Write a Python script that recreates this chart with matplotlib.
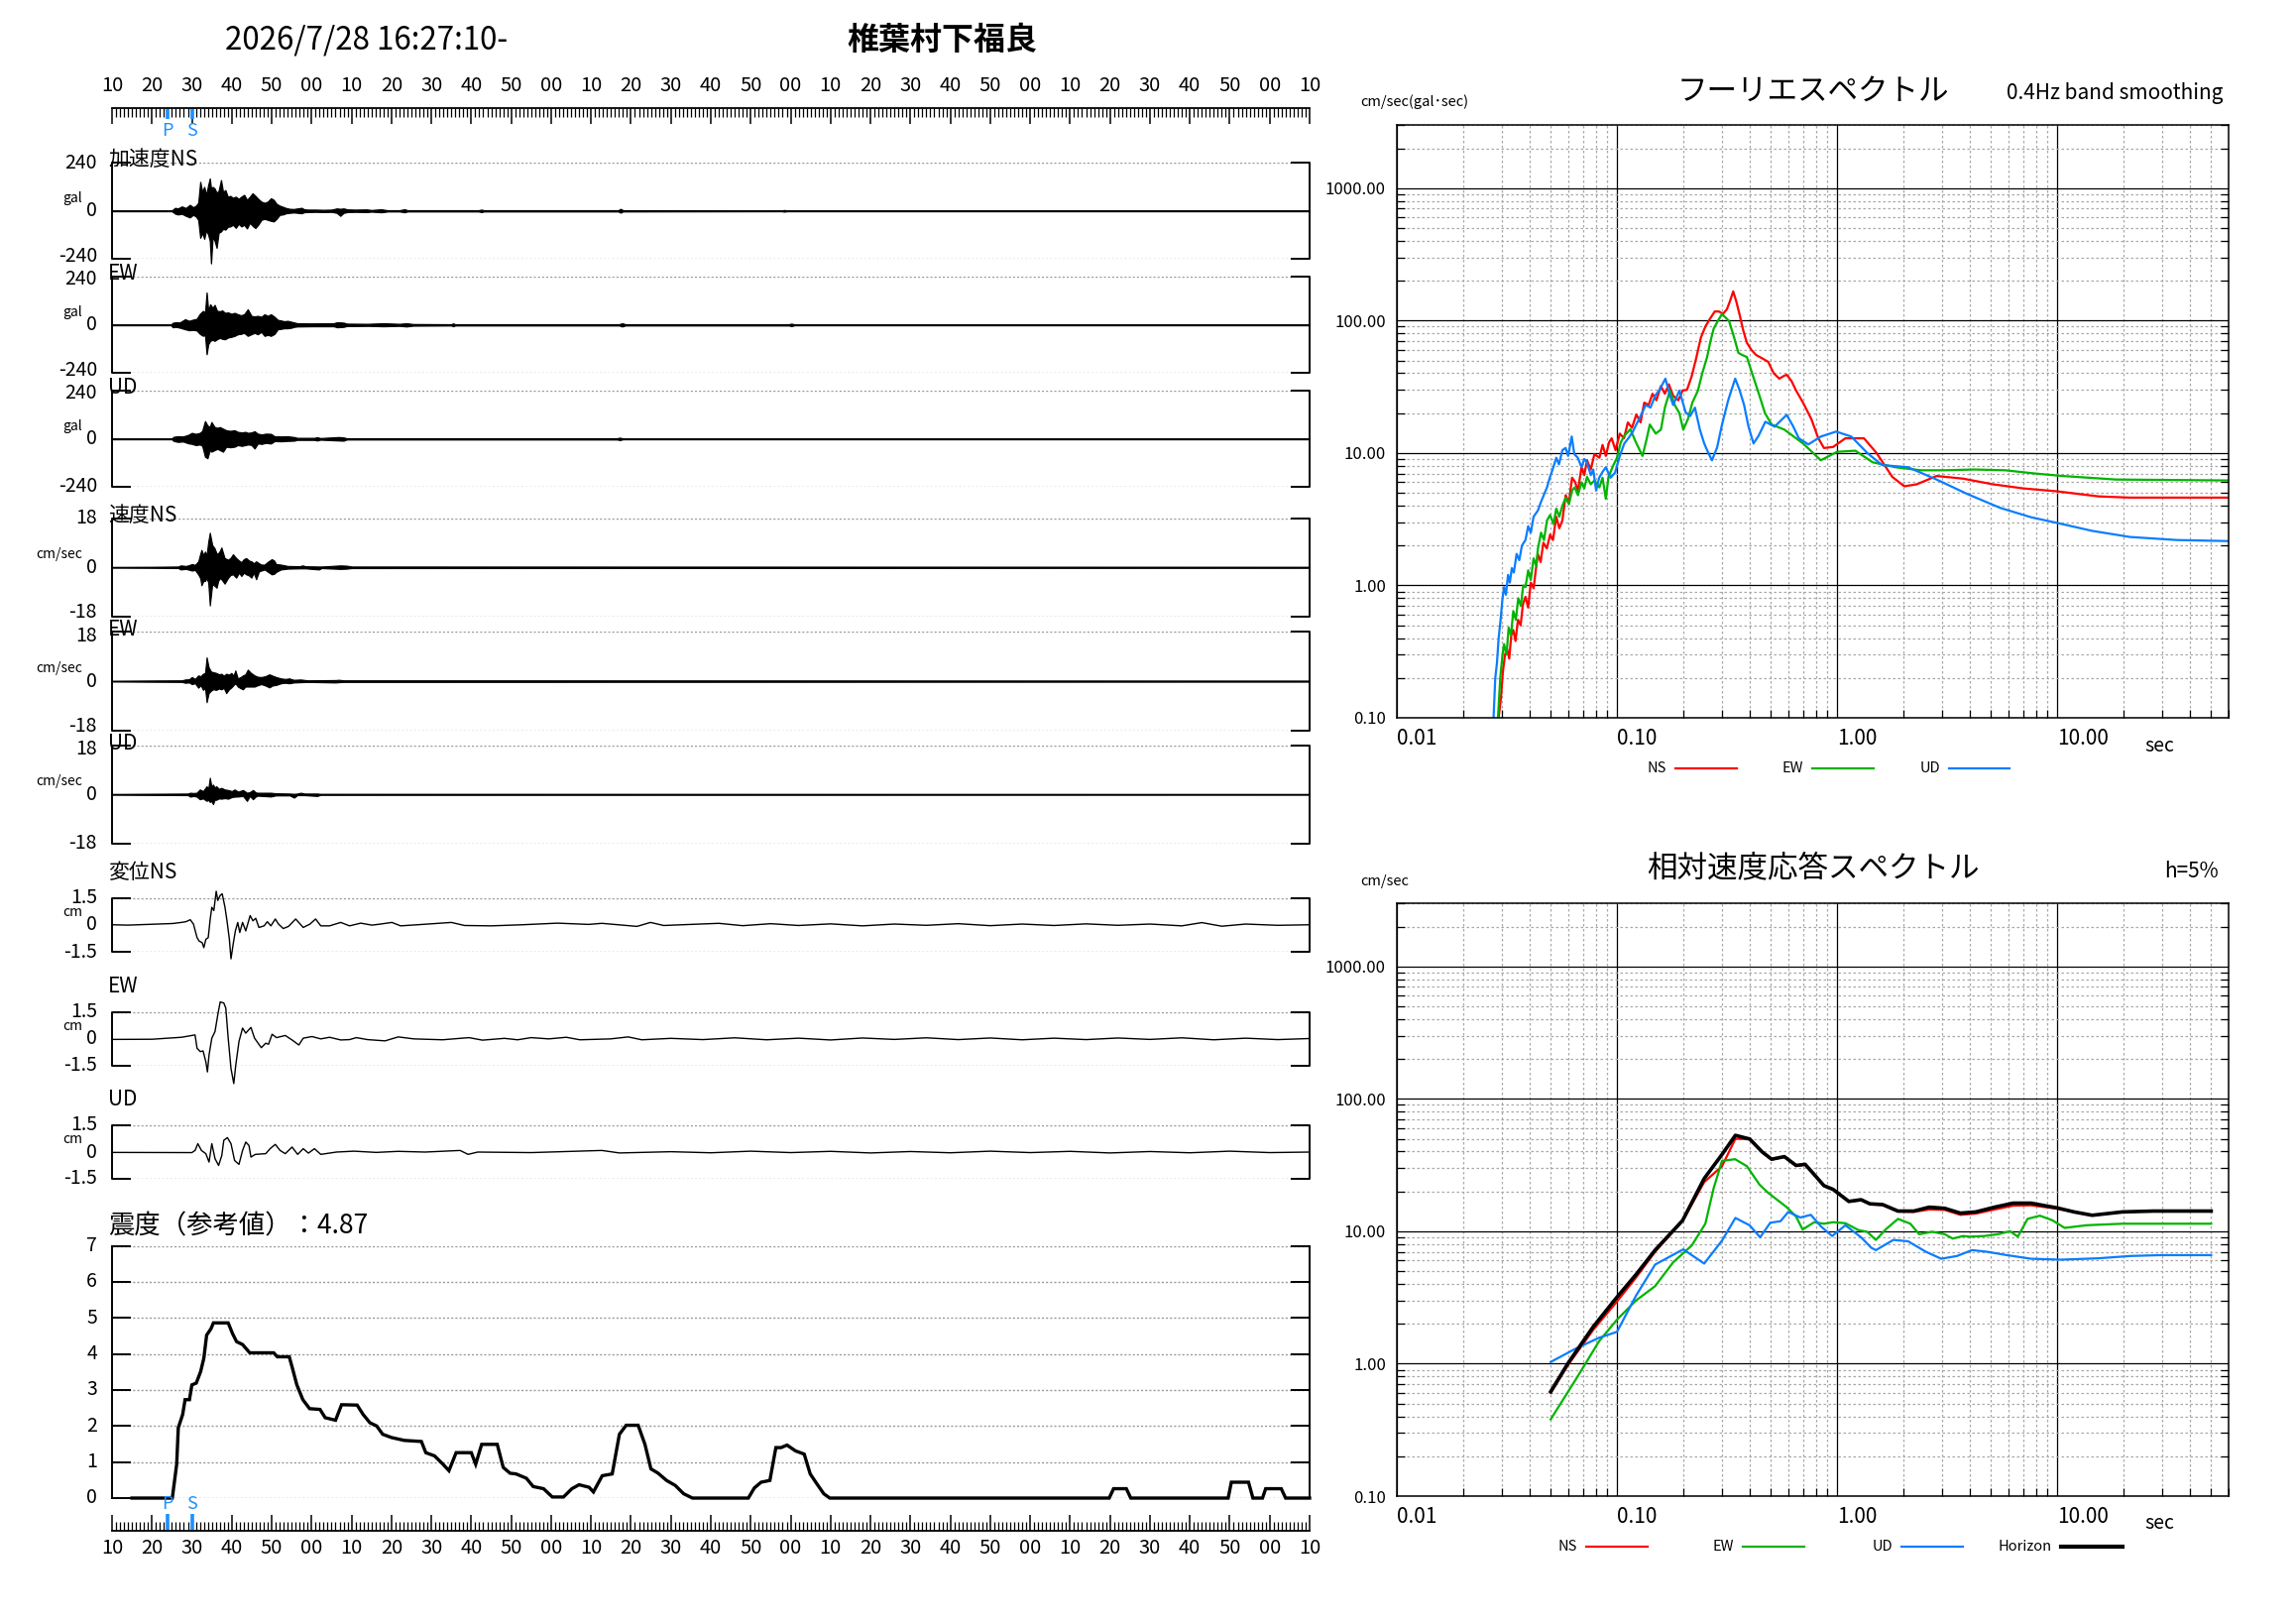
import numpy as np
import matplotlib
matplotlib.use('Agg')
import matplotlib.pyplot as plt
from matplotlib.lines import Line2D
from matplotlib.ticker import MultipleLocator, LogLocator, NullFormatter, FixedLocator, FuncFormatter

plt.rcParams['font.family'] = ['Noto Sans CJK JP', 'DejaVu Sans']

# ---------------- data ----------------
title_time = '2026/7/28 16:27:10-'
station = '椎葉村下福良'
start_sec = 10           # 16:27:10
span_sec = 300
p_time = 14.0
s_time = 20.1
shindo_value = 4.87

# acceleration envelopes (time s, upper gal, lower gal)
acc_ns = [(0, 2, -2), (15.0, 2, -2), (15.8, 15, -14), (16.5, 12, -18), (17.5, 22, -15), (18.5, 14, -25),
          (19.5, 30, -33), (20.3, 18, -20), (21.0, 25, -28), (21.6, 40, -45), (22.1, 145, -135), (22.6, 95, -110),
          (23.1, 120, -140), (23.6, 80, -95), (24.1, 130, -120), (24.5, 162, -150), (24.8, 110, -263),
          (25.2, 120, -130), (25.7, 112, -150), (26.2, 90, -185), (26.7, 100, -110), (27.3, 154, -103),
          (27.8, 95, -90), (28.4, 104, -94), (29.0, 70, -80), (29.6, 75, -78), (30.3, 65, -70), (31.0, 71, -85),
          (31.7, 60, -65), (32.4, 71, -78), (33.1, 80, -70), (33.8, 55, -88), (34.5, 70, -60), (35.2, 88, -75),
          (35.9, 75, -86), (36.6, 60, -70), (37.4, 46, -45), (38.2, 40, -40), (39.0, 46, -45), (39.8, 63, -50),
          (40.5, 55, -53), (41.2, 35, -40), (42.0, 26, -20), (42.8, 20, -18), (43.6, 14, -12), (44.5, 10, -10),
          (45.5, 9, -8), (46.5, 12, -10), (47.5, 15, -12), (48.1, 8, -7), (49.0, 6, -6), (51.0, 6, -5),
          (53.0, 5, -6), (55.0, 6, -5), (56.3, 12, -10), (57.2, 10, -25), (58.0, 12, -10), (59.0, 7, -6),
          (61.0, 6, -5), (63.8, 7, -6), (65.0, 4, -4), (67.4, 8, -7), (68.0, 6, -6), (69.0, 3, -3),
          (72.0, 3, -3), (73.3, 8, -7), (74.0, 3, -3), (91.8, 3, -3), (92.5, 6, -6), (93.2, 3, -3),
          (126.8, 3, -3), (127.4, 10, -9), (128.0, 3, -3), (167.8, 2, -2), (168.4, 4, -4), (169.0, 2, -2),
          (300, 2, -2)]
acc_ew = [(0, 2, -2), (14.8, 2, -2), (15.2, 10, -12), (16.0, 13, -10), (17.0, 12, -14), (18.3, 28, -22),
          (19.3, 20, -27), (20.3, 26, -25), (21.2, 30, -28), (22.0, 55, -45), (22.8, 70, -55), (23.3, 60, -50),
          (23.7, 162, -147), (24.1, 70, -97), (24.6, 103, -80), (25.2, 85, -75), (25.7, 100, -80), (26.3, 70, -72),
          (27.0, 68, -65), (27.6, 72, -70), (28.3, 60, -72), (29.1, 62, -63), (29.9, 55, -60), (30.7, 60, -55),
          (31.5, 53, -47), (32.3, 48, -45), (33.1, 53, -40), (34.0, 78, -55), (34.9, 45, -47), (35.7, 42, -40),
          (36.5, 45, -47), (37.4, 40, -35), (38.2, 53, -55), (39.0, 45, -50), (39.8, 53, -55), (40.7, 40, -45),
          (41.5, 25, -22), (42.3, 22, -20), (43.1, 18, -17), (44.0, 20, -17), (45.0, 15, -14), (45.6, 12, -10),
          (46.4, 8, -8), (50.0, 7, -7), (55.5, 8, -7), (56.4, 13, -12), (58.0, 11, -10), (58.8, 6, -6),
          (64.0, 5, -5), (68.0, 8, -7), (72.0, 5, -5), (73.8, 8, -8), (75.4, 4, -4), (85.0, 3, -3),
          (85.4, 7, -7), (86.0, 3, -3), (127.0, 3, -3), (127.8, 8, -8), (128.6, 3, -3), (169.5, 3, -3),
          (170.2, 6, -6), (171.0, 2, -2), (300, 2, -2)]
acc_ud = [(0, 2, -2), (15.0, 2, -2), (15.4, 10, -10), (16.5, 13, -15), (17.8, 12, -13), (19.1, 20, -22),
          (20.0, 30, -25), (21.0, 25, -31), (22.0, 30, -28), (22.6, 40, -35), (23.3, 89, -89), (23.9, 67, -97),
          (24.5, 60, -55), (24.9, 84, -64), (25.7, 59, -56), (26.4, 55, -50), (27.0, 59, -56), (27.8, 51, -64),
          (28.6, 43, -39), (29.6, 40, -42), (30.7, 43, -39), (31.5, 35, -31), (32.5, 32, -35), (33.4, 35, -31),
          (34.0, 30, -28), (34.9, 32, -30), (35.7, 38, -48), (36.5, 26, -23), (37.5, 22, -25), (38.5, 26, -20),
          (39.8, 25, -23), (40.7, 13, -11), (42.5, 12, -12), (44.0, 13, -10), (45.6, 9, -9), (46.4, 5, -5),
          (50.6, 5, -5), (51.4, 8, -8), (52.2, 4, -4), (56.8, 9, -8), (58.0, 7, -9), (58.8, 3, -3),
          (126.5, 3, -3), (127.2, 6, -6), (128.0, 2, -2), (300, 2, -2)]

# velocity envelopes (time s, upper cm/s, lower cm/s)
vel_ns = [(0, 0.15, -0.15), (10, 0.2, -0.2), (16.6, 0.3, -0.3), (17.2, 0.7, -0.8), (18.5, 0.5, -0.6),
          (19.3, 0.8, -0.9), (20.0, 1.2, -1.2), (20.8, 0.9, -1.0), (21.6, 2.2, -2.6), (22.1, 5.0, -4.0),
          (22.4, 6.4, -6.6), (22.9, 4.5, -5.0), (23.3, 5.8, -5.0), (23.7, 4.5, -4.0), (24.1, 9.4, -5.6),
          (24.5, 12.7, -14.0), (25.1, 8.2, -6.2), (25.7, 7.0, -6.8), (26.2, 5.0, -7.5), (26.6, 5.2, -5.0),
          (27.0, 6.0, -4.0), (27.4, 7.3, -4.4), (28.2, 3.4, -6.0), (29.1, 2.8, -3.8), (29.7, 3.5, -2.8),
          (30.3, 4.8, -2.6), (31.1, 3.4, -3.8), (31.8, 2.5, -2.0), (32.4, 1.9, -3.2), (33.0, 3.0, -2.0),
          (33.6, 3.4, -2.6), (34.3, 2.5, -3.0), (34.9, 2.2, -3.8), (35.5, 1.5, -2.0), (36.1, 2.2, -4.4),
          (36.8, 1.5, -1.5), (37.4, 1.0, -1.2), (38.2, 1.0, -0.8), (39.0, 2.0, -1.6), (40.0, 3.0, -2.6),
          (40.6, 2.5, -2.4), (41.1, 1.2, -1.7), (42.3, 1.0, -0.8), (44.0, 0.5, -0.5), (47.0, 0.4, -0.4),
          (47.7, 0.7, -0.4), (48.5, 0.4, -0.4), (51.8, 0.3, -0.8), (52.5, 0.3, -0.3), (57.2, 0.7, -0.6),
          (58.8, 0.6, -0.5), (60, 0.3, -0.3), (300, 0.2, -0.2)]
vel_ew = [(0, 0.15, -0.15), (17.5, 0.3, -0.3), (18.3, 0.6, -0.6), (19.3, 0.7, -0.5), (20.0, 1.5, -1.1),
          (20.8, 0.8, -0.8), (21.6, 2.1, -2.4), (22.2, 1.8, -1.5), (22.8, 2.7, -3.2), (23.3, 3.0, -2.5),
          (23.7, 8.7, -7.7), (24.2, 5.1, -4.4), (24.8, 3.5, -3.5), (25.3, 3.3, -3.0), (26.1, 3.0, -3.2),
          (26.8, 2.5, -2.7), (27.4, 2.7, -3.0), (28.0, 2.0, -2.5), (28.6, 2.7, -4.4), (29.3, 2.4, -3.0),
          (29.9, 3.0, -2.3), (30.4, 2.0, -1.5), (30.9, 3.9, -0.8), (31.5, 1.0, -2.0), (32.2, 1.5, -2.6),
          (32.8, 2.1, -3.0), (33.4, 2.5, -2.0), (34.0, 4.2, -2.0), (34.8, 3.0, -2.0), (35.7, 2.1, -2.0),
          (36.5, 1.6, -1.5), (37.4, 1.5, -1.1), (38.4, 1.8, -1.6), (39.4, 2.5, -2.3), (40.2, 2.0, -1.6),
          (41.1, 1.5, -1.4), (42.3, 1.0, -0.8), (43.4, 0.8, -0.6), (44.4, 1.0, -0.8), (45.5, 0.5, -0.5),
          (47.3, 0.6, -0.4), (49.0, 0.3, -0.3), (56.0, 0.4, -0.5), (56.8, 0.5, -0.4), (58.0, 0.3, -0.3),
          (300, 0.2, -0.2)]
vel_ud = [(0, 0.15, -0.15), (19.0, 0.3, -0.3), (19.6, 0.6, -0.85), (20.4, 0.5, -0.6), (21.2, 0.6, -0.85),
          (22.0, 1.8, -1.8), (22.8, 1.2, -1.5), (23.7, 3.0, -2.4), (24.1, 2.0, -2.0), (24.5, 6.1, -2.8),
          (24.9, 3.0, -2.5), (25.3, 3.6, -3.6), (25.7, 2.5, -2.0), (26.1, 3.0, -2.0), (26.8, 2.0, -1.5),
          (27.4, 2.4, -1.6), (28.2, 1.8, -1.4), (29.1, 1.6, -1.6), (30.0, 1.2, -1.0), (30.7, 1.8, -0.85),
          (31.6, 1.0, -0.8), (32.8, 1.6, -0.6), (33.8, 0.6, -2.4), (34.5, 0.8, -0.6), (35.3, 1.6, -1.8),
          (36.0, 0.7, -0.8), (36.5, 0.6, -0.5), (39.8, 0.6, -0.8), (41.0, 0.4, -0.4), (44.5, 0.3, -0.4),
          (45.6, 0.2, -1.2), (46.4, 0.3, -0.3), (47.3, 0.6, -0.3), (48.2, 0.3, -0.3), (51.4, 0.3, -0.6),
          (52.2, 0.2, -0.2), (300, 0.15, -0.15)]

# displacement (time s, cm)
disp_ns = [(0, 0.0), (4.0, -0.02), (15.2, 0.07), (17.4, 0.13), (18.5, 0.17), (19.6, 0.28), (20.4, 0.04),
           (21.3, -0.71), (21.8, -0.90), (22.6, -1.00), (23.0, -1.27), (23.5, -0.81), (24.1, -0.71), (24.6, 0.32),
           (25.0, 0.97), (25.5, 0.79), (26.1, 1.86), (26.5, 1.35), (27.1, 1.63), (27.6, 1.72), (28.3, 0.97),
           (28.8, 0.22), (29.4, -0.81), (29.8, -1.89), (30.4, -1.00), (30.9, -0.34), (31.5, 0.13), (32.0, -0.43),
           (32.7, 0.13), (33.5, -0.34), (34.6, 0.51), (35.3, 0.22), (36.0, 0.36), (36.8, -0.15), (38.1, -0.06),
           (38.9, 0.17), (39.8, -0.06), (40.9, 0.32), (41.7, 0.04), (42.9, -0.21), (44.2, -0.09), (46.0, 0.32),
           (47.9, -0.15), (49.6, 0.04), (51.0, 0.32), (52.3, -0.06), (54.5, -0.06), (57.3, 0.13), (59.5, -0.06),
           (62.3, 0.09), (65.1, -0.02), (67.3, 0.04), (70.1, 0.13), (72.3, -0.06), (77.8, 0.02), (85.0, 0.13),
           (88.3, -0.04), (95.0, -0.06), (102.7, 0.0), (111.6, 0.09), (119.4, 0.02), (122.7, 0.08),
           (131.5, -0.09), (134.9, 0.13), (138.2, -0.04), (145.0, 0.02), (152, 0.08), (158, -0.05), (165, 0.06),
           (172, -0.04), (180, 0.05), (188, -0.06), (196, 0.04), (204, -0.03), (212, 0.06), (220, -0.05),
           (228, 0.04), (236, -0.04), (244, 0.05), (252, -0.03), (260, 0.04), (268, -0.06), (273, 0.12),
           (278, -0.08), (284, 0.04), (292, -0.03), (300, 0.0)]
disp_ew = [(0, -0.03), (10, -0.02), (17.4, 0.09), (20.8, 0.22), (21.3, -0.52), (22.1, -0.71), (22.8, -0.67),
           (23.5, -1.27), (23.9, -1.84), (24.3, -0.90), (25.0, 0.04), (25.8, 0.41), (26.5, 1.35), (27.1, 2.06),
           (28.0, 2.00), (28.5, 1.72), (29.1, 0.04), (29.8, -1.65), (30.5, -2.49), (31.0, -1.46), (31.8, -0.15),
           (32.7, 0.60), (33.5, 0.32), (34.8, 0.64), (35.7, 0.04), (37.4, -0.49), (38.5, -0.24), (39.2, -0.30),
           (40.1, 0.26), (41.2, 0.07), (43.4, 0.19), (45.1, -0.06), (46.8, -0.34), (47.9, 0.04), (50.1, 0.13),
           (52.3, 0.0), (54.5, 0.09), (57.3, -0.06), (59.5, -0.04), (61.2, 0.07), (64.0, -0.04), (68.4, -0.11),
           (71.7, 0.11), (75.6, 0.0), (82.8, -0.05), (89.4, 0.07), (92.8, -0.07), (98.3, 0.03), (101.6, -0.05),
           (105.0, 0.07), (109.4, 0.0), (113.8, 0.09), (117.2, -0.05), (124.9, 0.0), (129.3, 0.11),
           (132.7, -0.05), (140, 0.03), (148, -0.04), (156, 0.06), (164, -0.05), (172, 0.04), (180, -0.06),
           (188, 0.05), (196, -0.03), (204, 0.06), (212, -0.04), (220, 0.05), (228, -0.05), (236, 0.04),
           (244, -0.04), (252, 0.05), (260, -0.03), (268, 0.06), (276, -0.05), (284, 0.04), (292, -0.04),
           (300, 0.02)]
disp_ud = [(0, -0.02), (20.0, -0.03), (20.8, 0.09), (21.5, 0.47), (22.4, 0.09), (23.5, -0.09), (24.3, -0.56),
           (25.0, 0.47), (25.8, -0.37), (26.7, -0.75), (27.5, -0.19), (28.0, 0.66), (28.9, 0.81), (29.8, 0.47),
           (30.7, -0.47), (31.8, -0.69), (32.7, 0.09), (33.5, 0.56), (34.3, 0.37), (34.8, -0.28), (35.9, -0.13),
           (38.5, -0.09), (39.6, 0.19), (40.9, 0.43), (42.1, 0.09), (43.4, -0.09), (45.1, 0.28), (46.5, -0.13),
           (47.9, 0.19), (49.2, -0.06), (50.7, 0.19), (52.3, -0.13), (56.2, 0.0), (60.6, 0.05), (66.2, -0.02),
           (71.7, 0.04), (78.4, 0.0), (87.2, 0.09), (89.2, -0.13), (91.6, 0.0), (105.0, -0.03), (122.7, 0.09),
           (127.1, -0.05), (140, 0.02), (150, -0.04), (160, 0.05), (170, -0.03), (180, 0.04), (190, -0.05),
           (200, 0.03), (210, -0.04), (220, 0.05), (230, -0.03), (240, 0.04), (250, -0.05), (260, 0.03),
           (270, -0.04), (280, 0.05), (290, -0.03), (300, 0.0)]

# seismic intensity (time s, value)
shindo = [(5.0, 0.0), (15.1, 0.0), (16.2, 0.94), (16.6, 1.95), (17.7, 2.32), (18.3, 2.73), (19.4, 2.73),
          (20.0, 3.14), (21.1, 3.19), (22.2, 3.51), (23.0, 3.88), (23.7, 4.52), (24.8, 4.70), (25.4, 4.86),
          (29.1, 4.86), (30.2, 4.56), (31.2, 4.34), (32.7, 4.26), (34.5, 4.03), (40.5, 4.03), (41.4, 3.92),
          (44.4, 3.92), (45.2, 3.60), (46.3, 3.14), (47.8, 2.73), (49.5, 2.48), (52.1, 2.46), (53.4, 2.23),
          (56.0, 2.16), (57.5, 2.59), (61.4, 2.58), (62.9, 2.32), (64.6, 2.09), (66.3, 2.00), (67.8, 1.77),
          (70.0, 1.68), (73.2, 1.60), (77.5, 1.57), (78.6, 1.26), (80.8, 1.17), (82.9, 0.94), (84.4, 0.76),
          (86.2, 1.26), (90.0, 1.26), (91.1, 0.94), (92.6, 1.49), (96.5, 1.49), (98.0, 0.85), (99.7, 0.69),
          (101.2, 0.67), (103.8, 0.55), (105.5, 0.32), (108.1, 0.26), (110.3, 0.03), (113.1, 0.03),
          (115.2, 0.26), (117.0, 0.37), (119.5, 0.30), (120.6, 0.17), (122.8, 0.62), (125.3, 0.67),
          (127.1, 1.77), (128.8, 2.02), (131.8, 2.02), (133.5, 1.49), (135.0, 0.81), (136.8, 0.69),
          (138.9, 0.49), (141.1, 0.35), (143.2, 0.12), (145.4, 0.0), (159.4, 0.0), (160.9, 0.28),
          (162.6, 0.44), (164.8, 0.49), (166.3, 1.40), (167.6, 1.40), (169.1, 1.47), (171.2, 1.31),
          (173.4, 1.22), (174.9, 0.67), (176.6, 0.39), (178.3, 0.12), (179.8, 0.0), (249.8, 0.0),
          (250.9, 0.26), (254.1, 0.26), (255.2, 0.0), (279.6, 0.0), (280.4, 0.44), (284.7, 0.44),
          (285.8, 0.0), (288.2, 0.0), (289.0, 0.26), (292.9, 0.26), (294.0, 0.0), (300.0, 0.0)]

# Fourier spectra (period s, cm/s)
fourier_ns = [(0.0290, 0.10), (0.0297, 0.14), (0.0303, 0.22), (0.0310, 0.30), (0.0317, 0.33), (0.0324, 0.28),
              (0.0331, 0.42), (0.0338, 0.46), (0.0346, 0.38), (0.0355, 0.55), (0.0365, 0.50), (0.0374, 0.72),
              (0.0384, 0.82), (0.0395, 0.68), (0.0406, 1.05), (0.0418, 0.95), (0.0430, 1.40), (0.0437, 1.73),
              (0.0450, 1.50), (0.0463, 2.10), (0.0480, 1.90), (0.0497, 2.42), (0.0512, 2.20), (0.0530, 3.30),
              (0.0547, 2.70), (0.0565, 3.10), (0.0585, 4.80), (0.0605, 4.20), (0.0625, 6.50), (0.0643, 6.10),
              (0.0665, 5.20), (0.0690, 7.80), (0.0710, 6.80), (0.0731, 8.80), (0.0760, 7.50), (0.0790, 9.80),
              (0.0832, 9.20), (0.0860, 11.5), (0.0890, 9.5), (0.0920, 12.0), (0.0946, 12.9), (0.0985, 10.5),
              (0.1030, 14.0), (0.1076, 12.9), (0.1120, 17.0), (0.1170, 15.5), (0.1224, 19.5), (0.1280, 17.0),
              (0.1330, 24.0), (0.1392, 23.0), (0.1450, 28.0), (0.1510, 25.0), (0.1583, 32.0), (0.1650, 28.0),
              (0.1720, 33.0), (0.1800, 27.0), (0.1900, 25.0), (0.1986, 29.6), (0.2080, 30.0), (0.2185, 38.0),
              (0.2290, 52.0), (0.2403, 74.0), (0.2520, 90.0), (0.2644, 103), (0.2780, 117), (0.2909, 117),
              (0.3030, 112), (0.3160, 122), (0.3260, 140), (0.3372, 166), (0.3480, 140), (0.3600, 112),
              (0.3740, 85), (0.3890, 68), (0.4080, 60), (0.4280, 55), (0.4550, 52), (0.4860, 48.8), (0.5150, 40),
              (0.5460, 36.4), (0.5700, 38), (0.5900, 39), (0.6200, 35), (0.6510, 29.6), (0.7000, 24),
              (0.7650, 17.9), (0.8200, 13), (0.8710, 10.9), (0.9590, 11.1), (1.0900, 12.9), (1.3240, 12.9),
              (1.5100, 10.0), (1.7800, 6.6), (2.0200, 5.6), (2.3000, 5.8), (2.8300, 6.7), (3.7300, 6.4),
              (5.1000, 5.8), (7.0000, 5.4), (10.000, 5.13), (15.400, 4.7), (21.400, 4.6), (60.000, 4.6)]
fourier_ew = [(0.0288, 0.10), (0.0295, 0.20), (0.0302, 0.30), (0.0307, 0.36), (0.0315, 0.30), (0.0322, 0.48),
              (0.0330, 0.42), (0.0338, 0.64), (0.0347, 0.55), (0.0356, 0.80), (0.0366, 0.70), (0.0375, 1.00),
              (0.0384, 0.97), (0.0395, 1.30), (0.0406, 1.10), (0.0418, 1.60), (0.0430, 1.40), (0.0437, 1.88),
              (0.0452, 2.50), (0.0466, 2.20), (0.0481, 3.10), (0.0497, 3.40), (0.0515, 2.90), (0.0530, 3.80),
              (0.0547, 3.30), (0.0565, 4.00), (0.0585, 4.60), (0.0605, 4.10), (0.0625, 5.20), (0.0643, 5.50),
              (0.0665, 4.80), (0.0690, 6.00), (0.0710, 5.40), (0.0731, 6.60), (0.0760, 5.80), (0.0790, 6.20),
              (0.0832, 5.50), (0.0860, 6.50), (0.0890, 4.50), (0.0915, 6.60), (0.0960, 8.00), (0.1000, 9.20),
              (0.1040, 12.0), (0.1080, 13.5), (0.1150, 15.1), (0.1220, 12.0), (0.1306, 9.5), (0.1360, 12.5),
              (0.1410, 16.4), (0.1500, 14.0), (0.1583, 15.0), (0.1650, 22.0), (0.1740, 29.6), (0.1830, 23.0),
              (0.1920, 20.0), (0.2000, 15.0), (0.2100, 18.0), (0.2200, 24.0), (0.2332, 29.6), (0.2440, 40.0),
              (0.2567, 53.0), (0.2660, 70.0), (0.2750, 87.0), (0.2880, 100), (0.3000, 112), (0.3230, 99.0),
              (0.3400, 75.0), (0.3560, 57.0), (0.3700, 55.0), (0.3890, 53.0), (0.4150, 38.0), (0.4440, 27.0),
              (0.4700, 20.0), (0.5040, 16.4), (0.5760, 15.0), (0.7000, 11.8), (0.8430, 8.8), (1.0000, 10.2),
              (1.2100, 10.4), (1.4500, 8.5), (1.8400, 7.8), (2.4000, 7.4), (3.0500, 7.4), (4.2000, 7.5),
              (5.8000, 7.4), (7.9000, 7.0), (10.600, 6.7), (18.500, 6.3), (60.000, 6.2)]
fourier_ud = [(0.0275, 0.10), (0.0280, 0.20), (0.0285, 0.26), (0.0290, 0.40), (0.0296, 0.55), (0.0302, 0.80),
              (0.0307, 0.97), (0.0313, 0.85), (0.0320, 1.20), (0.0326, 1.05), (0.0333, 1.35), (0.0340, 1.25),
              (0.0350, 1.73), (0.0360, 1.55), (0.0370, 2.00), (0.0384, 2.20), (0.0395, 2.80), (0.0406, 2.50),
              (0.0418, 3.30), (0.0437, 3.67), (0.0450, 4.20), (0.0465, 4.80), (0.0481, 5.50), (0.0495, 6.50),
              (0.0510, 7.50), (0.0530, 9.20), (0.0545, 8.20), (0.0565, 10.5), (0.0584, 10.9), (0.0600, 9.50),
              (0.0623, 13.3), (0.0640, 9.80), (0.0664, 9.20), (0.0690, 7.80), (0.0710, 9.00), (0.0730, 8.50),
              (0.0760, 6.80), (0.0780, 7.50), (0.0804, 5.20), (0.0830, 6.50), (0.0860, 7.20), (0.0890, 7.80),
              (0.0935, 6.50), (0.0980, 7.10), (0.1030, 9.50), (0.1080, 11.8), (0.1130, 13.0), (0.1180, 14.5),
              (0.1224, 16.4), (0.1280, 19.0), (0.1350, 23.0), (0.1420, 22.0), (0.1490, 27.0), (0.1560, 30.0),
              (0.1660, 36.4), (0.1730, 28.0), (0.1800, 23.0), (0.1920, 29.6), (0.2050, 20.3), (0.2150, 19.0),
              (0.2260, 22.0), (0.2380, 15.0), (0.2490, 11.8), (0.2600, 10.0), (0.2700, 8.8), (0.2850, 11.0),
              (0.3000, 16.4), (0.3200, 25.0), (0.3443, 36.4), (0.3600, 30.0), (0.3780, 23.0), (0.3950, 16.0),
              (0.4170, 11.8), (0.4400, 13.5), (0.4720, 17.2), (0.5200, 15.8), (0.5900, 19.4), (0.6300, 16.0),
              (0.6700, 12.9), (0.7400, 11.6), (0.8430, 13.3), (0.9900, 14.5), (1.1600, 13.3), (1.3700, 10.0),
              (1.6000, 8.1), (2.1000, 7.8), (2.8300, 6.3), (3.9000, 4.9), (5.5000, 3.85), (7.6000, 3.27),
              (10.000, 2.96), (14.400, 2.58), (21.400, 2.32), (35.000, 2.20), (60.000, 2.16)]

# relative velocity response spectra, h=5% (period s, cm/s)
resp_ns = [(0.050, 0.60), (0.060, 0.98), (0.078, 1.80), (0.100, 2.95), (0.1224, 4.50), (0.149, 7.0),
           (0.1986, 12.0), (0.249, 23.5), (0.300, 31.0), (0.345, 50.0), (0.401, 49.5), (0.456, 39.5),
           (0.504, 34.8), (0.576, 36.4), (0.651, 31.2), (0.716, 31.8), (0.787, 26.6), (0.871, 22.0),
           (0.959, 20.6), (1.13, 16.7), (1.285, 17.2), (1.41, 16.0), (1.61, 15.8), (1.89, 14.1), (2.23, 14.0),
           (2.62, 14.6), (3.08, 14.5), (3.63, 13.3), (4.27, 13.6), (5.19, 14.6), (6.3, 15.6), (7.6, 15.7),
           (10.0, 14.8), (11.9, 14.0), (14.4, 13.2), (19.8, 14.0), (27.3, 14.2), (50.0, 14.2)]
resp_ew = [(0.050, 0.38), (0.065, 0.76), (0.083, 1.48), (0.100, 2.15), (0.122, 3.0), (0.149, 3.85),
           (0.180, 5.83), (0.2185, 7.8), (0.252, 11.4), (0.275, 21.2), (0.300, 34.0), (0.344, 35.0),
           (0.389, 31.0), (0.444, 22.5), (0.486, 19.5), (0.590, 15.2), (0.651, 12.9), (0.697, 10.3),
           (0.787, 11.7), (0.870, 11.4), (0.960, 11.7), (1.09, 11.5), (1.25, 10.2), (1.37, 9.9), (1.50, 8.6),
           (1.67, 10.4), (1.89, 12.4), (2.15, 11.4), (2.36, 9.5), (2.70, 9.9), (3.08, 9.5), (3.35, 8.8),
           (3.73, 9.2), (4.00, 9.1), (4.66, 9.2), (5.38, 9.5), (6.10, 10.0), (6.62, 9.1), (7.33, 12.4),
           (8.34, 13.1), (9.50, 12.1), (10.8, 10.6), (13.6, 11.1), (19.8, 11.4), (50.0, 11.4)]
resp_ud = [(0.050, 1.03), (0.065, 1.30), (0.083, 1.57), (0.100, 1.74), (0.122, 3.26), (0.149, 5.6),
           (0.200, 7.3), (0.249, 5.7), (0.300, 8.5), (0.345, 12.6), (0.400, 11.1), (0.447, 9.0), (0.497, 11.6),
           (0.553, 11.9), (0.600, 14.0), (0.680, 12.7), (0.760, 13.3), (0.843, 10.9), (0.950, 9.2), (1.09, 11.1),
           (1.285, 9.0), (1.43, 7.5), (1.50, 7.2), (1.80, 8.6), (2.10, 8.4), (2.53, 7.0), (2.97, 6.2),
           (3.50, 6.5), (4.10, 7.2), (4.80, 7.0), (5.90, 6.6), (7.60, 6.2), (10.4, 6.1), (15.4, 6.25),
           (21.4, 6.5), (29.3, 6.6), (50.0, 6.6)]
resp_h = [(0.050, 0.615), (0.060, 1.01), (0.078, 1.90), (0.100, 3.18), (0.1224, 4.74), (0.149, 7.2),
          (0.1986, 12.05), (0.249, 25.0), (0.300, 38.0), (0.345, 53.0), (0.401, 49.7), (0.456, 39.8),
          (0.504, 35.0), (0.576, 36.6), (0.651, 31.4), (0.716, 32.0), (0.787, 26.8), (0.871, 22.1),
          (0.959, 20.7), (1.13, 16.8), (1.285, 17.3), (1.41, 16.1), (1.61, 15.9), (1.89, 14.2), (2.23, 14.2),
          (2.62, 15.2), (3.08, 14.9), (3.63, 13.7), (4.27, 14.0), (5.19, 15.2), (6.3, 16.3), (7.6, 16.3),
          (10.0, 15.0), (11.9, 14.0), (14.4, 13.2), (19.8, 14.0), (27.3, 14.2), (50.0, 14.2)]

spec_xticks = [0.01, 0.1, 1, 10]
spec_xlabels = ['0.01', '0.10', '1.00', '10.00']
spec_yticks = [0.1, 1, 10, 100, 1000]
spec_ylabels = ['0.10', '1.00', '10.00', '100.00', '1000.00']

C_NS, C_EW, C_UD, C_PS = '#ff0000', '#00b400', '#0a7dff', '#1e90ff'

# ---------------- figure ----------------
W, H = 2316, 1637
fig = plt.figure(figsize=(W / 100, H / 100), dpi=100)


def box(x0, y0, x1, y1):
    return [x0 / W, 1 - y1 / H, (x1 - x0) / W, (y1 - y0) / H]


def ftext(x, y, s, **kw):
    fig.text(x / W, 1 - y / H, s, **kw)


XL, XR = 113, 1321
STUB = 18 / (XR - XL) * span_sec
GRID_GRAY = '#9a9a9a'
VAL_FS = 14


def panel(top, bot, lim, unit, name, name_y):
    ax = fig.add_axes(box(XL, top, XR, bot))
    ax.set_xlim(0, span_sec)
    ax.set_ylim(-lim, lim)
    ax.axis('off')
    for v in (lim, -lim):
        ax.axhline(v, color=GRID_GRAY, lw=1.0, ls=(0, (1.5, 1.5)), zorder=1)
    ax.plot([STUB, 0, 0, STUB], [lim, lim, -lim, -lim], color='k', lw=1.4, clip_on=False, zorder=3)
    ax.plot([span_sec - STUB, span_sec, span_sec, span_sec - STUB], [lim, lim, -lim, -lim],
            color='k', lw=1.4, clip_on=False, zorder=3)
    zero = (top + bot) / 2
    ftext(98, zero, '0', ha='right', va='center', fontsize=VAL_FS)
    ftext(83, zero - 13, unit, ha='right', va='center', fontsize=10)
    ftext(109, name_y, name, ha='left', va='center', fontsize=15)
    return ax


def value_labels(boxes, top_lab, bot_lab, merge):
    # labels of the scale limits; touching limits of stacked panels share one two-line text
    ftext(98, boxes[0][0], top_lab, ha='right', va='center', fontsize=VAL_FS)
    for i in range(len(boxes) - 1):
        b, t = boxes[i][1], boxes[i + 1][0]
        if merge:
            ftext(98, (b + t) / 2, f'{bot_lab}\n{top_lab}', ha='right', va='center', ma='right',
                  fontsize=VAL_FS, linespacing=1.15)
        else:
            ftext(98, b, bot_lab, ha='right', va='center', fontsize=VAL_FS)
            ftext(98, t, top_lab, ha='right', va='center', fontsize=VAL_FS)
    ftext(98, boxes[-1][1], bot_lab, ha='right', va='center', fontsize=VAL_FS)


def draw_env(ax, rows, lw):
    t = [r[0] for r in rows]
    hi = [r[1] for r in rows]
    lo = [r[2] for r in rows]
    ax.fill_between(t, lo, hi, color='k', lw=lw, clip_on=False, zorder=4)


def draw_line(ax, rows, lw):
    t = [r[0] for r in rows]
    v = [r[1] for r in rows]
    ax.plot(t, v, color='k', lw=lw, clip_on=False, zorder=4)


# acceleration
acc_boxes = [(164.3, 261.0, acc_ns, '加速度NS', 161), (279.3, 376.0, acc_ew, 'EW', 276),
             (394.3, 491.0, acc_ud, 'UD', 391)]
for top, bot, rows, name, ny in acc_boxes:
    ax = panel(top, bot, 240, 'gal', name, ny)
    draw_env(ax, rows, 0.9)
value_labels(acc_boxes, '240', '-240', True)

vel_boxes = [(522.7, 621.7, vel_ns, '速度NS', 520), (637.3, 736.7, vel_ew, 'EW', 635),
             (751.7, 850.7, vel_ud, 'UD', 750)]
for top, bot, rows, name, ny in vel_boxes:
    ax = panel(top, bot, 18, 'cm/sec', name, ny)
    draw_env(ax, rows, 0.8)
value_labels(vel_boxes, '18', '-18', True)

disp_boxes = [(905.5, 960.0, disp_ns, '変位NS', 880), (1020.7, 1075.0, disp_ew, 'EW', 995),
              (1135.0, 1189.0, disp_ud, 'UD', 1109)]
for top, bot, rows, name, ny in disp_boxes:
    ax = panel(top, bot, 1.5, 'cm', name, ny)
    draw_line(ax, rows, 1.0)
value_labels(disp_boxes, '1.5', '-1.5', False)

# intensity
axi = fig.add_axes(box(XL, 1256.5, XR, 1511))
axi.set_xlim(0, span_sec)
axi.set_ylim(0, 7)
axi.axis('off')
for k in range(8):
    axi.axhline(k, color=GRID_GRAY, lw=1.0, ls=(0, (1.5, 1.5)), zorder=1)
    axi.plot([0, STUB], [k, k], color='k', lw=1.4, clip_on=False)
    axi.plot([span_sec - STUB, span_sec], [k, k], color='k', lw=1.4, clip_on=False)
    ftext(98, 1511 - k * (1511 - 1256.5) / 7, str(k), ha='right', va='center', fontsize=VAL_FS)
axi.plot([0, 0], [0, 7], color='k', lw=1.4, clip_on=False)
axi.plot([span_sec, span_sec], [0, 7], color='k', lw=1.4, clip_on=False)
axi.plot([r[0] for r in shindo], [r[1] for r in shindo], color='k', lw=2.4, zorder=4,
         solid_joinstyle='miter', clip_on=False)
ftext(109, 1237, f'震度（参考値）：{shindo_value:.2f}', ha='left', va='center', fontsize=19)

# time tick axes
tfmt = FuncFormatter(lambda v, p: f'{int(round(v + start_sec)) % 60:02d}')


def time_axis(y0, y1, where, pad):
    ax = fig.add_axes(box(XL, y0, XR, y1))
    ax.set_xlim(0, span_sec)
    ax.set_ylim(0, 1)
    for s in ax.spines.values():
        s.set_visible(False)
    ax.spines[where].set_visible(True)
    ax.spines[where].set_linewidth(1.3)
    ax.set_yticks([])
    ax.xaxis.set_major_locator(MultipleLocator(10))
    ax.xaxis.set_minor_locator(MultipleLocator(1))
    ax.xaxis.set_major_formatter(tfmt)
    if where == 'top':
        ax.xaxis.tick_top()
    ax.tick_params(axis='x', which='major', direction='in', length=11.5, width=1.1, labelsize=14.5, pad=pad)
    ax.tick_params(axis='x', which='minor', direction='in', length=6.3, width=0.9)
    ax.patch.set_alpha(0)
    return ax


axt = time_axis(109, 125, 'top', 8.5)
axt.vlines([p_time, s_time], 5 / 16, 1, color=C_PS, lw=2.6)
axt.text(p_time, -0.42, 'P', ha='center', va='center', color=C_PS, fontsize=13, clip_on=False)
axt.text(s_time, -0.42, 'S', ha='center', va='center', color=C_PS, fontsize=13, clip_on=False)

axb = time_axis(1528, 1544, 'bottom', 5)
axb.vlines([p_time, s_time], -0.06, 1.06, color=C_PS, lw=2.6, clip_on=False)
axb.text(p_time, 1.66, 'P', ha='center', va='center', color=C_PS, fontsize=13, clip_on=False)
axb.text(s_time, 1.66, 'S', ha='center', va='center', color=C_PS, fontsize=13, clip_on=False)

# titles
ftext(227, 41, title_time, ha='left', va='center', fontsize=22.5)
ftext(950, 41, station, ha='center', va='center', fontsize=23, fontweight='bold')


# spectrum axes
def spec_axes(top, bot):
    ax = fig.add_axes(box(1409, top, 2248, bot))
    ax.set_xscale('log')
    ax.set_yscale('log')
    ax.set_xlim(0.01, 60)
    ax.set_ylim(0.1, 3000)
    ax.xaxis.set_major_locator(FixedLocator(spec_xticks))
    ax.set_xticklabels(spec_xlabels, ha='left', fontsize=15)
    ax.yaxis.set_major_locator(FixedLocator(spec_yticks))
    ax.set_yticklabels(spec_ylabels, fontsize=12)
    ax.xaxis.set_minor_locator(LogLocator(base=10, subs=np.arange(2, 10)))
    ax.yaxis.set_minor_locator(LogLocator(base=10, subs=np.arange(2, 10)))
    ax.xaxis.set_minor_formatter(NullFormatter())
    ax.yaxis.set_minor_formatter(NullFormatter())
    ax.grid(which='minor', color='#a8a8a8', lw=0.9, ls=(0, (2, 2)))
    ax.grid(which='major', color='k', lw=0.9, ls='-')
    ax.set_axisbelow(True)
    ax.tick_params(which='major', length=0, pad=8)
    ax.tick_params(axis='x', which='major', pad=7)
    ax.tick_params(which='minor', direction='in', length=6, width=0.9, left=True, right=True,
                   bottom=True, top=False)
    for s in ax.spines.values():
        s.set_linewidth(1.1)
    return ax


axf = spec_axes(126, 724)
for rows, c in ((fourier_ns, C_NS), (fourier_ew, C_EW), (fourier_ud, C_UD)):
    axf.plot([r[0] for r in rows], [r[1] for r in rows], color=c, lw=1.6, clip_on=True)
ftext(1829, 92, 'フーリエスペクトル', ha='center', va='center', fontsize=22)
ftext(2242, 94, '0.4Hz band smoothing', ha='right', va='center', fontsize=15)
ftext(1372, 103, 'cm/sec(gal･sec)', ha='left', va='center', fontsize=10.5)
ftext(2178, 752, 'sec', ha='center', va='center', fontsize=14)

axr = spec_axes(911, 1509)
for rows, c, lw in ((resp_ns, C_NS, 1.6), (resp_ew, C_EW, 1.6), (resp_ud, C_UD, 1.6), (resp_h, 'k', 2.6)):
    axr.plot([r[0] for r in rows], [r[1] for r in rows], color=c, lw=lw)
ftext(1829, 876, '相対速度応答スペクトル', ha='center', va='center', fontsize=22)
ftext(2238, 879, 'h=5%', ha='right', va='center', fontsize=15)
ftext(1372, 889, 'cm/sec', ha='left', va='center', fontsize=10.5)
ftext(2178, 1537, 'sec', ha='center', va='center', fontsize=14)


# legends
def legend_item(label, x0, x1, y, color, lw):
    ftext(x0 - 9, y, label, ha='right', va='center', fontsize=10.5)
    fig.add_artist(Line2D([x0 / W, x1 / W], [1 - y / H, 1 - y / H], color=color, lw=lw,
                          transform=fig.transFigure))


legend_item('NS', 1690, 1752, 775, C_NS, 1.6)
legend_item('EW', 1828, 1890, 775, C_EW, 1.6)
legend_item('UD', 1966, 2027, 775, C_UD, 1.6)
legend_item('NS', 1600, 1662, 1560, C_NS, 1.6)
legend_item('EW', 1758, 1820, 1560, C_EW, 1.6)
legend_item('UD', 1918, 1980, 1560, C_UD, 1.6)
legend_item('Horizon', 2079, 2141, 1560, 'k', 3.0)

fig.savefig('out.png', dpi=100)
